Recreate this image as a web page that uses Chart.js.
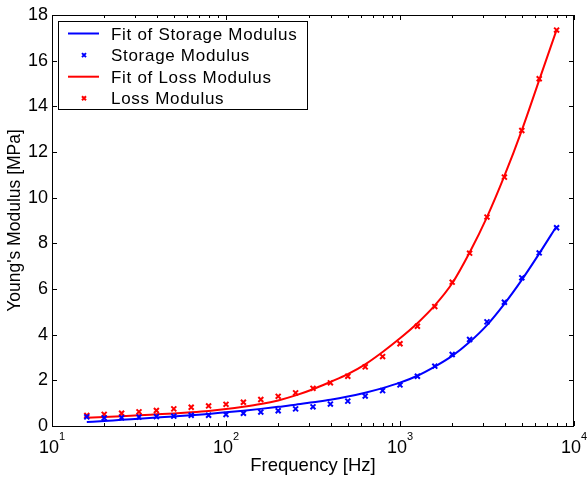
<!DOCTYPE html>
<html>
<head>
<meta charset="utf-8">
<script src="https://cdn.jsdelivr.net/npm/chart.js@4/dist/chart.umd.min.js"></script>
<style>
  html, body { margin: 0; padding: 0; background: #fff; }
  canvas { display: block; }
</style>
</head>
<body>
<canvas id="modulusChart" width="588" height="477"></canvas>
<script>
// frequencies [Hz]
const freq = [15.85, 19.95, 25.12, 31.62, 39.81, 50.12, 63.10, 79.43, 100, 125.9,
              158.5, 199.5, 251.2, 316.2, 398.1, 501.2, 631.0, 794.3, 1000, 1259,
              1585, 1995, 2512, 3162, 3981, 5012, 6310, 7943];

const storage = [0.40, 0.35, 0.36, 0.39, 0.41, 0.43, 0.47, 0.47, 0.50, 0.56,
                 0.61, 0.67, 0.75, 0.84, 0.96, 1.09, 1.31, 1.55, 1.80, 2.18,
                 2.62, 3.13, 3.79, 4.56, 5.42, 6.49, 7.58, 8.68];
const storageFit = [0.17, 0.22, 0.27, 0.32, 0.37, 0.42, 0.47, 0.53, 0.60, 0.67,
                    0.75, 0.84, 0.93, 1.04, 1.15, 1.29, 1.46, 1.66, 1.90, 2.20,
                    2.60, 3.07, 3.68, 4.42, 5.35, 6.40, 7.55, 8.75];

const loss = [0.46, 0.51, 0.56, 0.62, 0.68, 0.75, 0.82, 0.88, 0.95, 1.04,
              1.16, 1.30, 1.45, 1.65, 1.89, 2.18, 2.59, 3.04, 3.60, 4.37,
              5.23, 6.30, 7.57, 9.15, 10.90, 12.94, 15.21, 17.34];
const lossFit = [0.36, 0.39, 0.43, 0.47, 0.51, 0.55, 0.60, 0.66, 0.74, 0.84,
                 0.96, 1.12, 1.34, 1.61, 1.93, 2.27, 2.70, 3.24, 3.84, 4.50,
                 5.28, 6.25, 7.60, 9.15, 10.95, 12.95, 15.15, 17.35];

const yTicks = [0, 2, 4, 6, 8, 10, 12, 14, 16, 18];
const xTickValues = [10, 100, 1000, 10000];
const xTickExps = ['1', '2', '3', '4'];
const xMinor = [2, 3, 4, 5, 6, 7, 8, 9];

const labels = ['Fit of Storage Modulus', 'Storage Modulus', 'Fit of Loss Modulus', 'Loss Modulus'];

const FONT = '"Liberation Sans", Arial, Helvetica, sans-serif';

function pairs(vals) {
    return freq.map((f, i) => ({ x: f, y: vals[i] }));
}

function drawCross(ctx, x, y, h) {
    ctx.beginPath();
    ctx.moveTo(x - h, y - h); ctx.lineTo(x + h, y + h);
    ctx.moveTo(x - h, y + h); ctx.lineTo(x + h, y - h);
    ctx.stroke();
}

const matlabAxes = {
    id: 'matlabAxes',
    afterDraw(chart) {
        const ctx = chart.ctx;
        const a = chart.chartArea;
        const xs = chart.scales.x, ys = chart.scales.y;
        ctx.save();
        ctx.strokeStyle = '#000';
        ctx.lineWidth = 1;
        ctx.strokeRect(a.left + 0.5, a.top + 0.5, a.right - a.left - 1, a.bottom - a.top);

        // y ticks, inward on both sides
        ctx.beginPath();
        yTicks.forEach(v => {
            const py = Math.round(ys.getPixelForValue(v)) + 0.5;
            ctx.moveTo(a.left, py); ctx.lineTo(a.left + 5, py);
            ctx.moveTo(a.right, py); ctx.lineTo(a.right - 5, py);
        });
        // x ticks, major + minor, inward top and bottom
        xTickValues.forEach((v, i) => {
            const px = Math.round(xs.getPixelForValue(v)) + 0.5;
            ctx.moveTo(px, a.bottom); ctx.lineTo(px, a.bottom - 5);
            ctx.moveTo(px, a.top); ctx.lineTo(px, a.top + 5);
            if (i < xTickValues.length - 1) {
                xMinor.forEach(m => {
                    const mx = Math.round(xs.getPixelForValue(v * m)) + 0.5;
                    ctx.moveTo(mx, a.bottom); ctx.lineTo(mx, a.bottom - 3);
                    ctx.moveTo(mx, a.top); ctx.lineTo(mx, a.top + 3);
                });
            }
        });
        ctx.stroke();

        // x tick labels 10^n
        ctx.fillStyle = '#000';
        ctx.textBaseline = 'alphabetic';
        ctx.textAlign = 'left';
        xTickValues.forEach((v, i) => {
            const px = xs.getPixelForValue(v);
            ctx.font = '18px ' + FONT;
            const wBase = ctx.measureText('10').width;
            ctx.font = '11px ' + FONT;
            const wExp = ctx.measureText(xTickExps[i]).width;
            const start = px - (wBase + wExp) / 2;
            ctx.font = '18px ' + FONT;
            ctx.fillText('10', start, 453);
            ctx.font = '11px ' + FONT;
            ctx.fillText(xTickExps[i], start + wBase, 440);
        });

        // axis titles
        ctx.font = '18.5px ' + FONT;
        ctx.textAlign = 'center';
        ctx.fillText('Frequency [Hz]', (a.left + a.right) / 2, 471);
        ctx.save();
        ctx.translate(20, (a.top + a.bottom) / 2);
        ctx.rotate(-Math.PI / 2);
        ctx.font = '17.5px ' + FONT;
        ctx.fillText("Young's Modulus [MPa]", 0, 0);
        ctx.restore();

        // legend box
        const lx = 58, ly = 21, lw = 249, lh = 88;
        ctx.fillStyle = '#fff';
        ctx.fillRect(lx, ly, lw, lh);
        ctx.strokeStyle = '#000';
        ctx.strokeRect(lx + 0.5, ly + 0.5, lw, lh);
        ctx.font = '17px ' + FONT;
        ctx.letterSpacing = '0.7px';
        ctx.textAlign = 'left';
        chart.data.datasets.forEach((ds, i) => {
            const ry = 33.5 + i * 21.6;
            ctx.strokeStyle = ds.borderColor;
            ctx.lineWidth = 2;
            if (ds.showLine === false) {
                drawCross(ctx, 84, ry, 2);
            } else {
                ctx.beginPath();
                ctx.moveTo(68, ry); ctx.lineTo(99, ry);
                ctx.stroke();
            }
            ctx.fillStyle = '#000';
            ctx.fillText(ds.label, 111, ry + 6);
        });
        ctx.letterSpacing = '0px';
        ctx.restore();
    }
};

new Chart(document.getElementById('modulusChart'), {
    type: 'line',
    data: {
        datasets: [{
            label: labels[0],
            data: pairs(storageFit),
            borderColor: '#0000ff',
            borderWidth: 2,
            pointRadius: 0,
            cubicInterpolationMode: 'monotone',
            fill: false
        }, {
            label: labels[1],
            data: pairs(storage),
            borderColor: '#0000ff',
            backgroundColor: '#0000ff',
            showLine: false,
            pointStyle: 'crossRot',
            pointRadius: 3.5,
            pointBorderWidth: 2
        }, {
            label: labels[2],
            data: pairs(lossFit),
            borderColor: '#ff0000',
            borderWidth: 2,
            pointRadius: 0,
            cubicInterpolationMode: 'monotone',
            fill: false
        }, {
            label: labels[3],
            data: pairs(loss),
            borderColor: '#ff0000',
            backgroundColor: '#ff0000',
            showLine: false,
            pointStyle: 'crossRot',
            pointRadius: 3.5,
            pointBorderWidth: 2
        }]
    },
    options: {
        responsive: false,
        animation: false,
        layout: { padding: { left: 0, right: 14, top: 15, bottom: 0 } },
        plugins: {
            legend: { display: false },
            tooltip: { enabled: false }
        },
        scales: {
            x: {
                type: 'logarithmic',
                min: 10,
                max: 10000,
                grid: { display: false, drawTicks: false },
                border: { display: false },
                ticks: { display: false },
                afterFit: s => { s.height = 51; }
            },
            y: {
                type: 'linear',
                min: 0,
                max: 18,
                grid: { display: false, drawTicks: false },
                border: { display: false },
                ticks: {
                    stepSize: 2,
                    padding: 4,
                    color: '#000',
                    font: { family: FONT, size: 18 }
                },
                afterFit: s => { s.width = 52; }
            }
        }
    },
    plugins: [matlabAxes]
});
</script>
</body>
</html>
